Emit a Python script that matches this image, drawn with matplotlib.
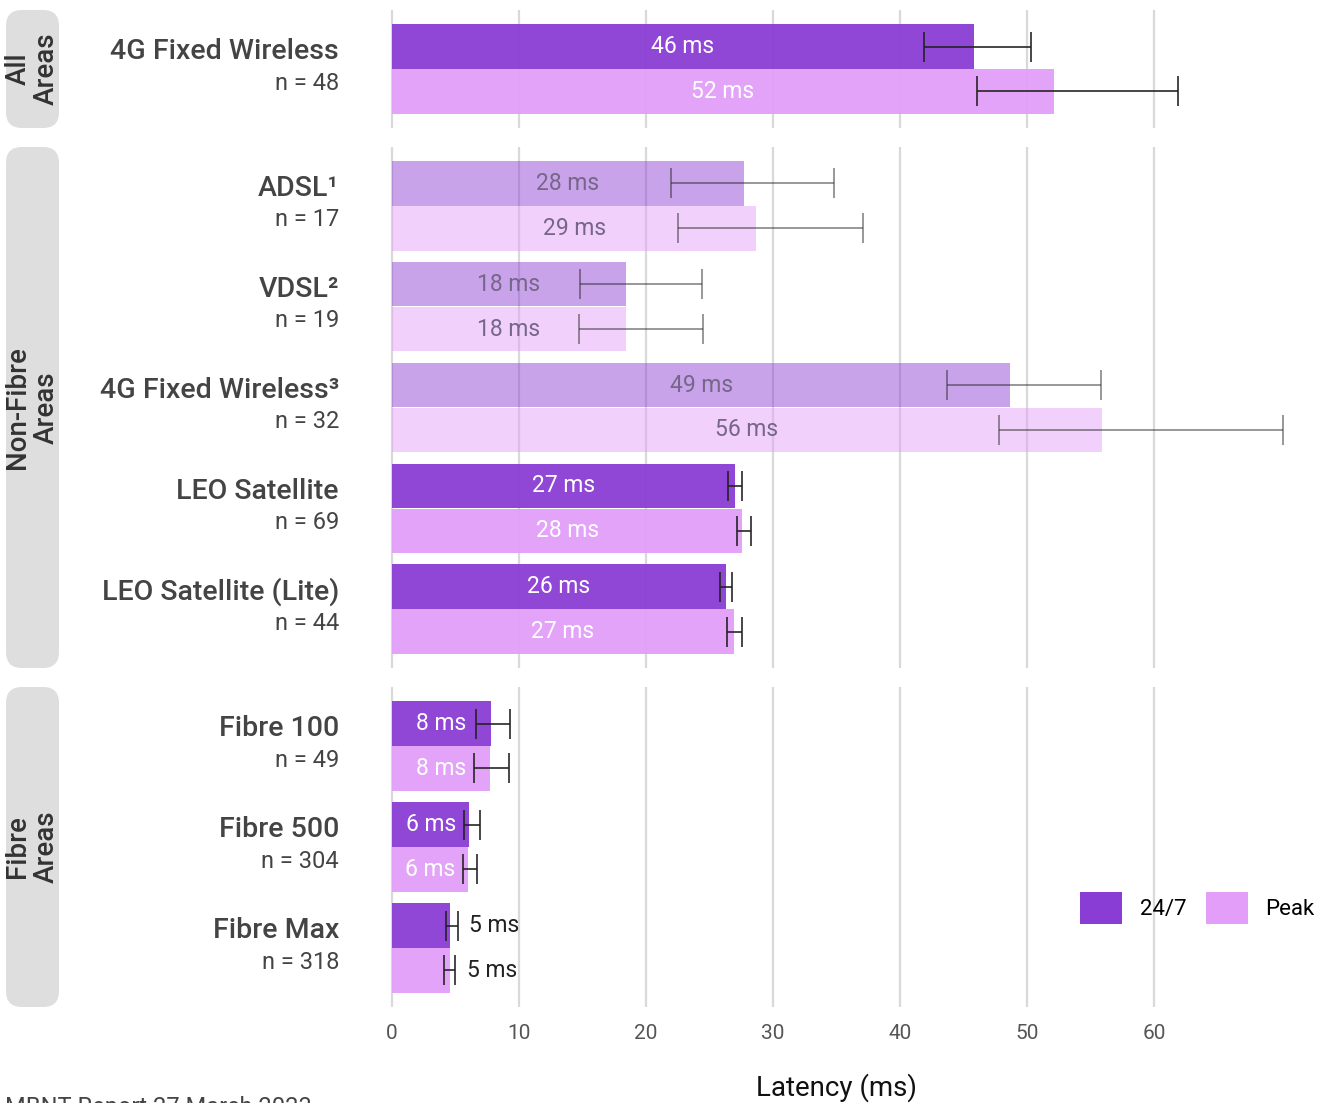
import matplotlib.pyplot as plt
import matplotlib.transforms as mtransforms
from matplotlib.patches import FancyBboxPatch, Patch
import numpy as np

plt.rcParams['font.family'] = ['Roboto', 'DejaVu Sans']

# data
panel_names = ["All\nAreas", "Non-Fibre\nAreas", "Fibre\nAreas"]
labels = ["4G Fixed Wireless", "ADSL¹", "VDSL²", "4G Fixed Wireless³", "LEO Satellite",
          "LEO Satellite (Lite)", "Fibre 100", "Fibre 500", "Fibre Max"]
n_obs = [48, 17, 19, 32, 69, 44, 49, 304, 318]
panel_of = [0, 1, 1, 1, 1, 1, 2, 2, 2]
faded = [False, True, True, True, False, False, False, False, False]

mean_247 = [45.8, 27.7, 18.4, 48.7, 27.0, 26.3, 7.8, 6.1, 4.6]
lo_247 = [41.9, 22.0, 14.8, 43.7, 26.5, 25.8, 6.6, 5.7, 4.25]
hi_247 = [50.3, 34.8, 24.4, 55.8, 27.6, 26.8, 9.3, 6.9, 5.2]

mean_peak = [52.1, 28.7, 18.4, 55.9, 27.6, 26.9, 7.7, 6.0, 4.6]
lo_peak = [46.1, 22.5, 14.7, 47.8, 27.2, 26.4, 6.5, 5.6, 4.1]
hi_peak = [61.9, 37.1, 24.5, 70.2, 28.3, 27.6, 9.2, 6.7, 5.0]

series_names = ["24/7", "Peak"]
series_colors = ["#8a3dd4", "#e29ef8"]
xticks = [0, 10, 20, 30, 40, 50, 60]

W, H = 1326, 1103
fig = plt.figure(figsize=(W / 100, H / 100), dpi=100)

# panel extents in pixels (top, bottom)
panel_px = [(10, 128), (147, 668), (687, 1007)]
left_px, right_px = 390, 1300
bh = 0.445
pad = 0.584

axes = []
for p, (top, bot) in enumerate(panel_px):
    ax = fig.add_axes([left_px / W, (H - bot) / H, (right_px - left_px) / W, (bot - top) / H])
    axes.append(ax)
    idx = [i for i in range(len(labels)) if panel_of[i] == p]
    k = len(idx)
    ax.set_xlim(-0.15, 71.5)
    ax.set_ylim(k - 1 + pad, -pad)
    ax.set_xticks(xticks)
    ax.set_yticks([])
    ax.grid(axis='x', color='#d9d9d9', linewidth=1.6)
    ax.set_axisbelow(True)
    for s in ax.spines.values():
        s.set_visible(False)
    ax.tick_params(axis='x', length=0, pad=12, labelsize=15, labelcolor='#555555')
    if p < 2:
        ax.set_xticklabels([])

    for g, i in enumerate(idx):
        alpha = 0.47 if faded[i] else 0.95
        ecol = '#222222'
        for s, (m, lo, hi) in enumerate([(mean_247[i], lo_247[i], hi_247[i]),
                                          (mean_peak[i], lo_peak[i], hi_peak[i])]):
            y = g - bh / 2 if s == 0 else g + bh / 2
            ax.barh(y, m, height=bh * 0.99, color=series_colors[s], alpha=alpha, zorder=2)
            ax.errorbar(m, y, xerr=[[m - lo], [hi - m]], fmt='none', ecolor=ecol,
                        alpha=0.5 if faded[i] else 0.9, elinewidth=1.3, capsize=10.5,
                        capthick=1.3, zorder=3)
            txt = f"{m:.0f} ms"
            if m < 5:
                ax.text(hi + 0.9, y, txt, ha='left', va='center', fontsize=16.5,
                        color='#222222', zorder=4)
            else:
                ax.text(m / 2, y, txt, ha='center', va='center', fontsize=16.5,
                        color='#76668a' if faded[i] else 'white', zorder=4)

        trans = mtransforms.blended_transform_factory(fig.transFigure, ax.transData)
        ax.text(339 / W, g - 0.17, labels[i], transform=trans, ha='right', va='center',
                fontsize=20.5, color='#444444', fontweight='medium')
        ax.text(339 / W, g + 0.14, f"n = {n_obs[i]}", transform=trans, ha='right',
                va='center', fontsize=17, color='#444444')

    # facet strip
    strip = FancyBboxPatch((6 / W, (H - bot) / H), 53 / W, (bot - top) / H,
                           boxstyle="round,pad=0,rounding_size=0.012",
                           transform=fig.transFigure, facecolor='#dedede',
                           edgecolor='none', mutation_aspect=W / H)
    fig.patches.append(strip)
    fig.text(32 / W, (H - (top + bot) / 2) / H, panel_names[p], rotation=90,
             ha='center', va='center', multialignment='center', fontsize=20,
             color='#333333', fontweight='medium', linespacing=1.05)

fig.text(837 / W, (H - 1088) / H, "Latency (ms)", ha='center', va='center',
         fontsize=20, color='#111111')
fig.text(5 / W, (H - 1096) / H, "MBNT Report 27 March 2023", ha='left', va='top',
         fontsize=17, color='#444444')

handles = [Patch(facecolor=c, edgecolor='none') for c in series_colors]
fig.legend(handles, series_names, loc='center left',
           bbox_to_anchor=(1080 / W, (H - 908) / H), ncol=2, frameon=False,
           fontsize=16, handlelength=1.9, handleheight=1.9, handletextpad=0.8,
           columnspacing=0.85, borderpad=0, borderaxespad=0)

fig.savefig("out.png", dpi=100)
